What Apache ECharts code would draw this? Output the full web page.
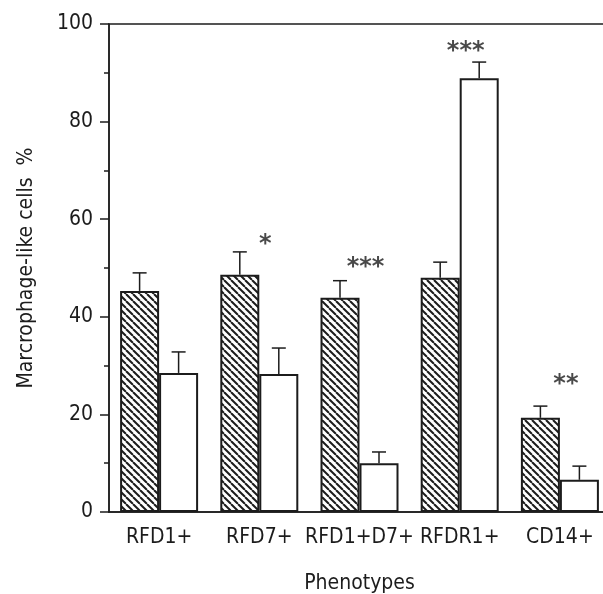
<!DOCTYPE html>
<html>
<head>
<meta charset="utf-8">
<script src="https://cdn.jsdelivr.net/npm/echarts@6/dist/echarts.min.js"></script>
<style>
html, body { margin: 0; padding: 0; background: #fff; }
#chart { width: 603px; height: 594px; }
</style>
</head>
<body>
<div id="chart"></div>
<script>
// values (percent)
const categories = ['RFD1+', 'RFD7+', 'RFD1+D7+', 'RFDR1+', 'CD14+'];
const hatchedValues = [45.3, 48.6, 43.9, 48.0, 19.3];
const hatchedErrors = [3.7, 4.7, 3.5, 3.2, 2.4];
const openValues = [28.5, 28.3, 10.0, 88.9, 6.6];
const openErrors = [4.3, 5.3, 2.3, 3.3, 2.8];
const stars = ['', '*', '***', '***', '**'];
const starHeights = [null, 55.3, 50.6, 94.9, 26.6];

const INK = '#1c1c1c';
const FONT = "'DejaVu Sans Condensed', 'Liberation Sans Narrow', sans-serif";
const BAR_W = 39;

function hatch() {
    const s = 7;
    const c = document.createElement('canvas');
    c.width = s; c.height = s;
    const ctx = c.getContext('2d');
    ctx.fillStyle = '#fff';
    ctx.fillRect(0, 0, s, s);
    ctx.strokeStyle = INK;
    ctx.lineWidth = 2;
    for (const k of [-s, 0, s]) {
        ctx.beginPath();
        ctx.moveTo(k, 0);
        ctx.lineTo(k + s, s);
        ctx.stroke();
    }
    return c;
}

function errorBars(values, errors, side) {
    return {
        type: 'custom',
        z: 1,
        encode: { x: 0, y: [1, 2] },
        data: values.map((v, i) => [i, v, v + errors[i]]),
        renderItem(params, api) {
            const lo = api.coord([api.value(0), api.value(1)]);
            const hi = api.coord([api.value(0), api.value(2)]);
            const x = lo[0] + side * BAR_W / 2;
            const st = { stroke: INK, lineWidth: 1.5 };
            return {
                type: 'group',
                children: [
                    { type: 'line', shape: { x1: x, y1: lo[1], x2: x, y2: hi[1] }, style: st },
                    { type: 'line', shape: { x1: x - 7, y1: hi[1], x2: x + 7, y2: hi[1] }, style: st }
                ]
            };
        }
    };
}

const chart = echarts.init(document.getElementById('chart'));
chart.setOption({
    animation: false,
    textStyle: { fontFamily: FONT, color: INK },
    grid: {
        left: 109, top: 24, width: 501, bottom: 82,
        outerBoundsMode: 'none',
        show: true, borderColor: INK, borderWidth: 1.5
    },
    xAxis: {
        type: 'category',
        data: categories,
        name: 'Phenotypes',
        nameLocation: 'middle',
        nameGap: 61,
        nameTextStyle: { fontSize: 21, color: INK, fontFamily: FONT },
        axisLine: { lineStyle: { color: INK, width: 1.5 } },
        axisTick: { length: 5, lineStyle: { color: INK, width: 1.5 } },
        axisLabel: { fontSize: 21, color: INK, margin: 15, fontFamily: FONT, interval: 0 }
    },
    yAxis: {
        type: 'value',
        min: 0, max: 100, interval: 20,
        name: 'Marcrophage-like cells  %',
        nameLocation: 'middle',
        nameGap: 72,
        nameTextStyle: { fontSize: 21, color: INK, fontFamily: FONT },
        axisLine: { show: true, lineStyle: { color: INK, width: 1.5 } },
        axisTick: { show: true, length: 9, lineStyle: { color: INK, width: 1.5 } },
        minorTick: { show: true, splitNumber: 2, length: 5, lineStyle: { color: INK, width: 1.5 } },
        splitLine: { show: false },
        axisLabel: { fontSize: 21, color: INK, margin: 16, fontFamily: FONT }
    },
    series: [
        {
            type: 'bar', data: hatchedValues, barWidth: BAR_W, barGap: '0%', z: 2,
            itemStyle: { color: { image: hatch(), repeat: 'repeat' }, borderColor: INK, borderWidth: 2 }
        },
        {
            type: 'bar', data: openValues, barWidth: BAR_W, barGap: '0%', z: 2,
            itemStyle: { color: '#fff', borderColor: INK, borderWidth: 2 }
        },
        errorBars(hatchedValues, hatchedErrors, -1),
        errorBars(openValues, openErrors, 1),
        {
            type: 'scatter',
            symbolSize: 1,
            itemStyle: { color: 'rgba(0,0,0,0)' },
            data: starHeights.map((h, i) => (h == null ? null : [i, h])),
            label: {
                show: true, position: 'inside', offset: [6, 3],
                formatter: p => stars[p.dataIndex],
                fontSize: 24, fontWeight: 'bold', color: INK, fontFamily: "'DejaVu Sans', sans-serif"
            }
        }
    ]
});
</script>
</body>
</html>
